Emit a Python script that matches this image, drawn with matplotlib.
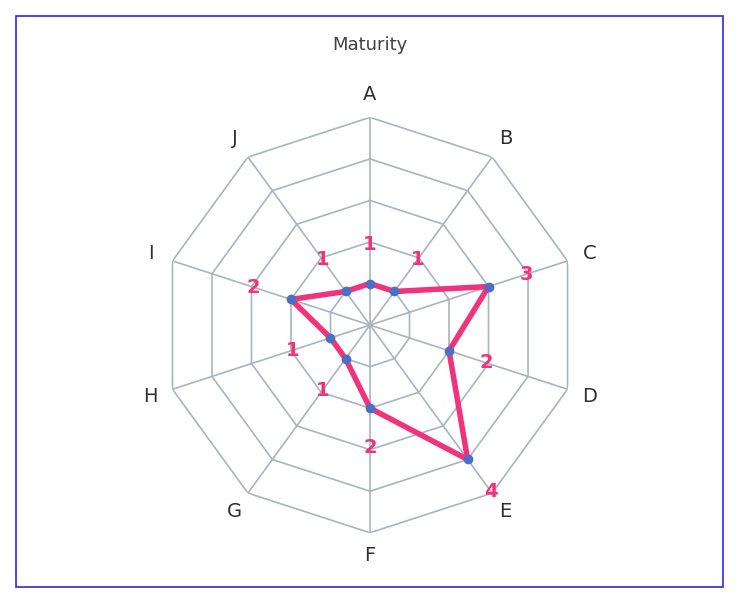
import numpy as np
import matplotlib
matplotlib.use("Agg")
import matplotlib.pyplot as plt
from matplotlib.patches import Rectangle

categories = ["A", "B", "C", "D", "E", "F", "G", "H", "I", "J"]
values = [1, 1, 3, 2, 4, 2, 1, 1, 2, 1]
levels = [1, 2, 3, 4, 5]

fig = plt.figure(figsize=(7.4, 6.02), dpi=100)
fig.patches.append(Rectangle((0.022, 0.025), 0.955, 0.948, transform=fig.transFigure,
                             fill=False, edgecolor="#2a2ae0", linewidth=1.2))
fig.text(0.5, 0.925, "Maturity", ha="center", va="center", fontsize=13, color="#404040")

ax = fig.add_axes([0.5 - 0.281, 0.46 - 0.345, 0.562, 0.69], polar=True)
ax.set_theta_zero_location("N")
ax.set_theta_direction(-1)
ax.set_ylim(0, 5)
ax.axis("off")

n = len(categories)
ang = np.arange(n) * 2 * np.pi / n
grid_c = "#a9b4bd"
for lv in levels:
    ax.plot(np.append(ang, ang[0]), [lv] * (n + 1), color=grid_c, lw=1.2)
for a in ang:
    ax.plot([a, a], [0, 5], color=grid_c, lw=1.2)
for a, c in zip(ang, categories):
    ax.text(a, 5.55, c, ha="center", va="center", fontsize=14, color="#303030")

pink = "#f0347c"
ax.plot(np.append(ang, ang[0]), values + [values[0]], color=pink, lw=4, zorder=3)
ax.plot(ang, values, "o", color="#4a6fc4", ms=6, zorder=4)
for a, v in zip(ang, values):
    ax.text(a, v + 0.95, str(v), ha="center", va="center", fontsize=14,
            fontweight="bold", color=pink, zorder=5)

fig.savefig("out.png", dpi=100)
